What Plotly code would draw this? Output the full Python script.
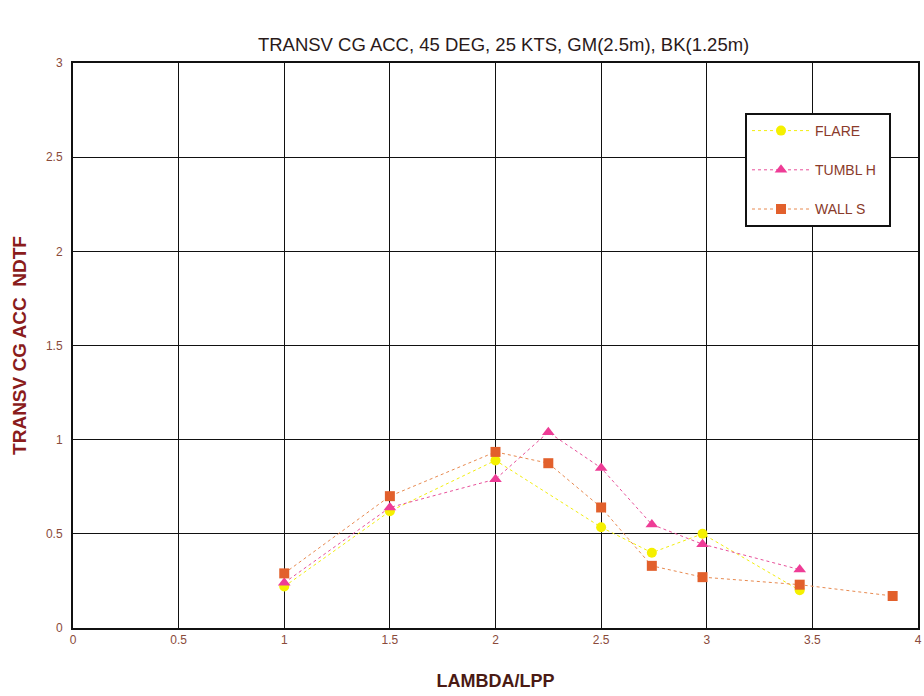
import plotly.graph_objects as go

flare_x = [1.0, 1.5, 2.0, 2.5, 2.74, 2.98, 3.44]
flare_y = [0.22, 0.62, 0.89, 0.535, 0.40, 0.50, 0.20]

tumbl_x = [1.0, 1.5, 2.0, 2.25, 2.5, 2.74, 2.98, 3.44]
tumbl_y = [0.24, 0.64, 0.79, 1.04, 0.85, 0.55, 0.445, 0.31]

wall_x = [1.0, 1.5, 2.0, 2.25, 2.5, 2.74, 2.98, 3.44, 3.88]
wall_y = [0.29, 0.70, 0.935, 0.875, 0.64, 0.33, 0.27, 0.23, 0.17]

x_ticks = [0, 0.5, 1, 1.5, 2, 2.5, 3, 3.5, 4]
x_labels = ["0", "0.5", "1", "1.5", "2", "2.5", "3", "3.5", "4"]
y_ticks = [0, 0.5, 1, 1.5, 2, 2.5, 3]
y_labels = ["0", "0.5", "1", "1.5", "2", "2.5", "3"]

FONT = "Liberation Sans, Arial, sans-serif"
TICK_COL = "#8a4a3a"

L, R, T, B = 73, 6, 63, 68
PW = 924 - L - R
PH = 696 - T - B

fig = go.Figure()
fig.add_trace(go.Scatter(
    x=flare_x, y=flare_y, name="FLARE\u00a0\u00a0", mode="lines+markers", legendgroup="a",
    line=dict(color="#f2ee10", width=1, dash="dot"),
    marker=dict(symbol="circle", size=10, color="#f5f000")))
fig.add_trace(go.Scatter(
    x=tumbl_x, y=tumbl_y, name="TUMBL H\u00a0\u00a0", mode="lines+markers", legendgroup="b",
    line=dict(color="#e8509a", width=1, dash="dot"),
    marker=dict(symbol="triangle-up", size=11, color="#ee3c96")))
fig.add_trace(go.Scatter(
    x=wall_x, y=wall_y, name="WALL S\u00a0\u00a0", mode="lines+markers", legendgroup="c",
    line=dict(color="#e88a50", width=1, dash="dot"),
    marker=dict(symbol="square", size=10, color="#e2602c")))

fig.update_layout(
    width=924, height=696,
    margin=dict(l=L, r=R, t=T, b=B),
    paper_bgcolor="white", plot_bgcolor="white",
    font=dict(family=FONT, color=TICK_COL, size=12),
    title=dict(text="TRANSV CG ACC, 45 DEG, 25 KTS, GM(2.5m), BK(1.25m)",
               x=0.545, xanchor="center", y=1 - 45 / 696, yanchor="middle",
               font=dict(family=FONT, size=18.5, color="#2a1a1a")),
    xaxis=dict(range=[0, 4], tickvals=x_ticks, ticktext=x_labels,
               showgrid=True, gridcolor="#111111", gridwidth=1,
               showline=True, linecolor="#111111", linewidth=2, mirror=True,
               zeroline=False, ticks="", ticklen=0, automargin=False,
               tickfont=dict(family=FONT, size=12, color=TICK_COL),
               title=dict(text="<b>LAMBDA/LPP</b>", standoff=28,
                          font=dict(family=FONT, size=18, color="#4a1a14"))),
    yaxis=dict(range=[0, 3], tickvals=y_ticks, ticktext=y_labels,
               showgrid=True, gridcolor="#111111", gridwidth=1,
               showline=True, linecolor="#111111", linewidth=2, mirror=True,
               zeroline=False, ticks="", ticklen=0, automargin=False,
               ticklabelstandoff=6,
               tickfont=dict(family=FONT, size=12, color=TICK_COL),
               title=dict(text="<b>TRANSV CG ACC  NDTF</b>", standoff=14,
                          font=dict(family=FONT, size=19, color="#8a1c1c"))),
    legend=dict(x=(745 - L) / PW, y=(696 - B - 113) / PH, xanchor="left", yanchor="top",
                bgcolor="white", bordercolor="#111111", borderwidth=2,
                font=dict(family=FONT, size=14, color="#8a3a2a"),
                tracegroupgap=18, itemwidth=58),
    showlegend=True,
)

fig.write_html("out.html", config={"displayModeBar": False},
               post_script="document.body.style.margin='0px';")
